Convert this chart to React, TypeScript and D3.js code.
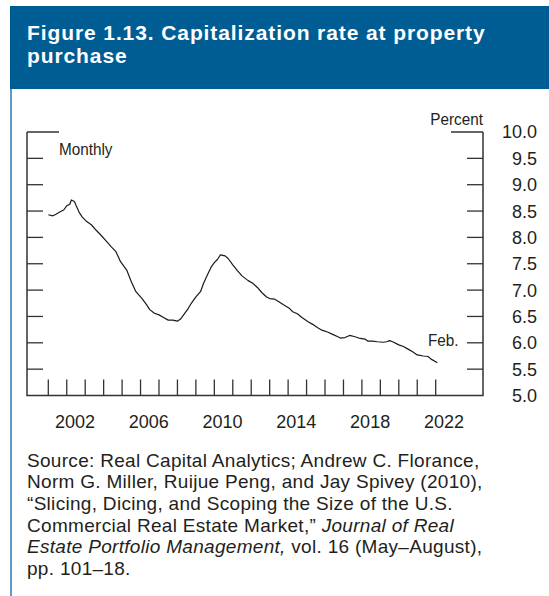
import React, { useEffect, useRef } from 'react';
import * as d3 from 'd3';

// monthly cap rate (percent)
const months = [
  '2001-01', '2001-04', '2001-06', '2001-09', '2001-11', '2002-01', '2002-03', '2002-04', '2002-06', '2002-07',
  '2002-09', '2002-11', '2003-02', '2003-05', '2003-08', '2003-11', '2004-03', '2004-06', '2004-09', '2004-12',
  '2005-04', '2005-07', '2005-10', '2006-02', '2006-05', '2006-07', '2006-10', '2007-01', '2007-04', '2007-07',
  '2007-10', '2008-01', '2008-03', '2008-05', '2008-08', '2008-10', '2009-01', '2009-04', '2009-06', '2009-09',
  '2009-11', '2010-01', '2010-03', '2010-05', '2010-08', '2010-10', '2011-01', '2011-04', '2011-07', '2011-11',
  '2012-02', '2012-05', '2012-08', '2012-11', '2013-01', '2013-04', '2013-07', '2013-10', '2014-02', '2014-04',
  '2014-07', '2014-10', '2015-02', '2015-05', '2015-08', '2015-11', '2016-03', '2016-06', '2016-09', '2016-11',
  '2017-02', '2017-05', '2017-08', '2017-11', '2018-03', '2018-05', '2018-08', '2018-11', '2019-03', '2019-05',
  '2019-07', '2019-09', '2020-01', '2020-04', '2020-07', '2020-10', '2021-01', '2021-05', '2021-08', '2021-10',
  '2022-01', '2022-02',
];
const capRate = [
  8.43, 8.41, 8.44, 8.49, 8.52, 8.60, 8.63, 8.71, 8.68, 8.61,
  8.48, 8.39, 8.30, 8.24, 8.14, 8.05, 7.92, 7.82, 7.73, 7.54,
  7.38, 7.16, 6.97, 6.84, 6.72, 6.63, 6.56, 6.53, 6.48, 6.43,
  6.43, 6.41, 6.45, 6.53, 6.65, 6.75, 6.87, 6.97, 7.13, 7.32,
  7.44, 7.52, 7.58, 7.67, 7.65, 7.60, 7.48, 7.37, 7.27, 7.18,
  7.13, 7.05, 6.95, 6.87, 6.84, 6.83, 6.78, 6.72, 6.65, 6.59,
  6.55, 6.48, 6.40, 6.35, 6.29, 6.24, 6.20, 6.16, 6.12, 6.09,
  6.10, 6.14, 6.12, 6.09, 6.07, 6.03, 6.03, 6.02, 6.01, 6.02,
  6.04, 6.02, 5.96, 5.93, 5.88, 5.83, 5.77, 5.75, 5.74, 5.69,
  5.64, 5.62,
];
const yTicks = [5.0, 5.5, 6.0, 6.5, 7.0, 7.5, 8.0, 8.5, 9.0, 9.5, 10.0];
const yearLabels = [2002, 2006, 2010, 2014, 2018, 2022];
const sourceLines = [
  [{ t: 'Source: Real Capital Analytics; Andrew C. Florance,' }],
  [{ t: 'Norm G. Miller, Ruijue Peng, and Jay Spivey (2010),' }],
  [{ t: '\u201cSlicing, Dicing, and Scoping the Size of the U.S.' }],
  [{ t: 'Commercial Real Estate Market,\u201d ' }, { t: 'Journal of Real', i: true }],
  [{ t: 'Estate Portfolio Management,', i: true }, { t: ' vol. 16 (May\u2013August),' }],
  [{ t: 'pp. 101\u201318.' }],
];

const FONT = '"Liberation Sans", Arial, sans-serif';
const INK = '#231f20';

export default function App() {
  const ref = useRef<SVGSVGElement | null>(null);

  useEffect(() => {
    const svg = d3.select(ref.current);
    svg.selectAll('*').remove();

    const W = 549, H = 596;
    const plot = { left: 27, right: 483, top: 132, bottom: 395.5 };

    // header band
    svg.append('rect').attr('x', 10).attr('y', 6).attr('width', W - 10).attr('height', 83).attr('fill', '#005d93');
    svg.append('line').attr('x1', 11).attr('x2', 11).attr('y1', 89).attr('y2', H)
      .attr('stroke', '#2a78b4').attr('stroke-width', 1.5);
    const title = svg.append('text').attr('fill', '#fff').style('font-family', FONT)
      .style('font-weight', 'bold').style('font-size', '21px').style('letter-spacing', '0.9px');
    title.append('tspan').attr('x', 27).attr('y', 40).text('Figure 1.13. Capitalization rate at property');
    title.append('tspan').attr('x', 27).attr('y', 62.5).text('purchase');

    const yearOf = (m: string) => +m.slice(0, 4) + (+m.slice(5, 7) - 1) / 12;
    const x = d3.scaleLinear().domain([2001, 2022]).range([48.3, 435.7]);
    const y = d3.scaleLinear().domain([5, 10]).range([plot.bottom, plot.top]);

    const g = svg.append('g');
    const axisStyle = (s: any, w = 1.5) => s.attr('stroke', '#333').attr('stroke-width', w).attr('fill', 'none');

    // frame: left, bottom, right
    axisStyle(g.append('path').attr('d',
      `M${plot.left},${y(10)}V${plot.bottom}H${plot.right}V${y(10)}`));
    // top long ticks
    axisStyle(g.append('line').attr('x1', plot.left).attr('x2', plot.left + 32).attr('y1', y(10)).attr('y2', y(10)));
    axisStyle(g.append('line').attr('x1', plot.right - 32).attr('x2', plot.right).attr('y1', y(10)).attr('y2', y(10)));

    // short y ticks on both sides
    yTicks.filter(v => v > 5 && v < 10).forEach(v => {
      axisStyle(g.append('line').attr('x1', plot.left).attr('x2', plot.left + 16).attr('y1', y(v)).attr('y2', y(v)), 1.3);
      axisStyle(g.append('line').attr('x1', plot.right - 16).attr('x2', plot.right).attr('y1', y(v)).attr('y2', y(v)), 1.3);
    });
    g.selectAll('.ylab').data(yTicks).join('text')
      .attr('x', 537).attr('y', d => y(d)).attr('dy', '0.36em')
      .attr('text-anchor', 'end').attr('fill', INK)
      .style('font-family', FONT).style('font-size', '18px')
      .text(d => d.toFixed(1));

    // year ticks
    d3.range(2001, 2023).forEach(yr => {
      axisStyle(g.append('line').attr('x1', x(yr)).attr('x2', x(yr)).attr('y1', plot.bottom).attr('y2', plot.bottom - 16), 1.3);
    });
    g.selectAll('.xlab').data(yearLabels).join('text')
      .attr('x', d => x(d + 0.5) - 1).attr('y', 428)
      .attr('text-anchor', 'middle').attr('fill', INK)
      .style('font-family', FONT).style('font-size', '18px')
      .text(d => d);

    // labels
    const lab = (tx: string, lx: number, ly: number, anchor = 'start') =>
      g.append('text').attr('x', lx).attr('y', ly).attr('text-anchor', anchor).attr('fill', INK)
        .style('font-family', FONT).style('font-size', '17px')
        .attr('transform', `translate(${lx},0) scale(0.9,1) translate(${-lx},0)`)
        .text(tx);
    lab('Monthly', 59, 155.5);
    lab('Percent', 483, 125, 'end');
    lab('Feb.', 428, 346);

    // the series
    const pts = months.map((m, i) => [yearOf(m), capRate[i]] as [number, number]);
    g.append('path').datum(pts)
      .attr('d', d3.line<[number, number]>().x(d => x(d[0])).y(d => y(d[1])))
      .attr('fill', 'none').attr('stroke', '#1a1a1a').attr('stroke-width', 1.2).attr('stroke-linejoin', 'round');

    // source note
    const src = svg.append('text').attr('fill', INK).style('font-family', FONT)
      .style('font-size', '19px').style('letter-spacing', '0.3px');
    sourceLines.forEach((line, i) => {
      line.forEach((part: any, j) => {
        const ts = src.append('tspan').style('font-style', part.i ? 'italic' : 'normal').text(part.t);
        if (j === 0) ts.attr('x', 27).attr('y', 466.5 + i * 21.7);
      });
    });
  }, []);

  return (
    <svg ref={ref} width={549} height={596}
      style={{ position: 'absolute', left: 0, top: 0, background: '#fff' }} />
  );
}
